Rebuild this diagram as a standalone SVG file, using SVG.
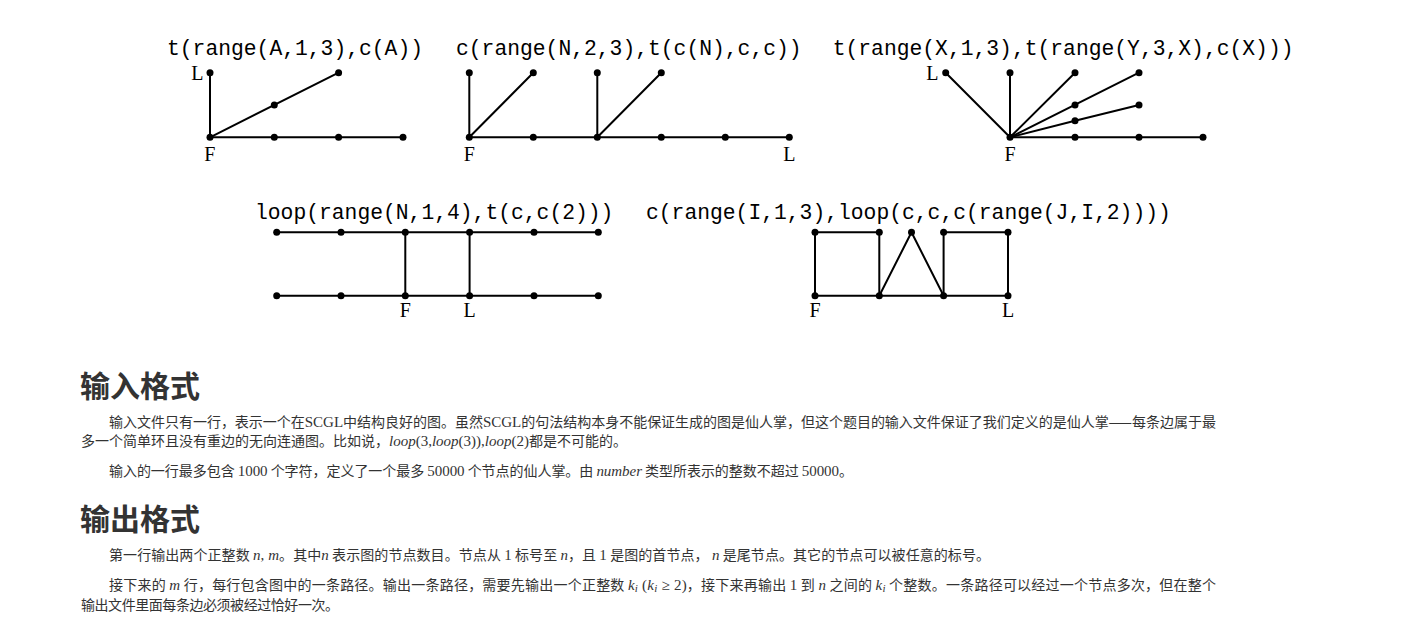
<svg xmlns="http://www.w3.org/2000/svg" width="1402" height="632" viewBox="0 0 1402 632">
<style>
.e{stroke:#000;stroke-width:2;fill:none;stroke-linecap:round}
.n{fill:#000}
.t{font-family:"Liberation Mono",monospace;font-size:21.3px;fill:#000}
.lb{font-family:"Liberation Serif",serif;font-size:20px;fill:#000}
.h{font-family:"Noto Sans CJK SC",sans-serif;font-size:30px;font-weight:bold;fill:#333}
.p{font-family:"Noto Sans CJK SC",sans-serif;font-size:14px;fill:#333}
.m{font-family:"Liberation Serif",serif;font-size:15px}
.i{font-family:"Liberation Serif",serif;font-style:italic;font-size:15px}
</style>
<rect width="1402" height="632" fill="#fff"/>

<g id="graph1">
<text class="t" x="167" y="55" textLength="256" lengthAdjust="spacingAndGlyphs">t(range(A,1,3),c(A))</text>
<g class="edges">
<line class="e" x1="210" y1="137.3" x2="210" y2="72.7"/>
<line class="e" x1="210" y1="137.3" x2="338.6" y2="72.7"/>
<line class="e" x1="210" y1="137.3" x2="403" y2="137.3"/>
</g>
<circle class="n" cx="210" cy="137.3" r="3.5"/>
<circle class="n" cx="210" cy="72.7" r="3.5"/>
<circle class="n" cx="274.3" cy="105" r="3.5"/>
<circle class="n" cx="338.6" cy="72.7" r="3.5"/>
<circle class="n" cx="274.3" cy="137.3" r="3.5"/>
<circle class="n" cx="338.6" cy="137.3" r="3.5"/>
<circle class="n" cx="403" cy="137.3" r="3.5"/>
<text class="lb" x="203.5" y="80" text-anchor="end">L</text>
<text class="lb" x="209.7" y="161" text-anchor="middle">F</text>
</g>

<g id="graph2">
<text class="t" x="456" y="55" textLength="345.6" lengthAdjust="spacingAndGlyphs">c(range(N,2,3),t(c(N),c,c))</text>
<g class="edges">
<line class="e" x1="469.3" y1="137.3" x2="469.3" y2="72.7"/>
<line class="e" x1="469.3" y1="137.3" x2="533.3" y2="72.7"/>
<line class="e" x1="597.3" y1="137.3" x2="597.3" y2="72.7"/>
<line class="e" x1="597.3" y1="137.3" x2="661.3" y2="72.7"/>
<line class="e" x1="469.3" y1="137.3" x2="789.3" y2="137.3"/>
</g>
<circle class="n" cx="469.3" cy="72.7" r="3.5"/>
<circle class="n" cx="533.3" cy="72.7" r="3.5"/>
<circle class="n" cx="597.3" cy="72.7" r="3.5"/>
<circle class="n" cx="661.3" cy="72.7" r="3.5"/>
<circle class="n" cx="469.3" cy="137.3" r="3.5"/>
<circle class="n" cx="533.3" cy="137.3" r="3.5"/>
<circle class="n" cx="597.3" cy="137.3" r="3.5"/>
<circle class="n" cx="661.3" cy="137.3" r="3.5"/>
<circle class="n" cx="725.3" cy="137.3" r="3.5"/>
<circle class="n" cx="789.3" cy="137.3" r="3.5"/>
<text class="lb" x="469.3" y="161" text-anchor="middle">F</text>
<text class="lb" x="789.3" y="161" text-anchor="middle">L</text>
</g>

<g id="graph3">
<text class="t" x="832.7" y="55" textLength="460.8" lengthAdjust="spacingAndGlyphs">t(range(X,1,3),t(range(Y,3,X),c(X)))</text>
<g class="edges">
<line class="e" x1="1010" y1="137.3" x2="945.7" y2="72.7"/>
<line class="e" x1="1010" y1="137.3" x2="1010" y2="72.7"/>
<line class="e" x1="1010" y1="137.3" x2="1075" y2="72.7"/>
<line class="e" x1="1010" y1="137.3" x2="1139" y2="72.7"/>
<line class="e" x1="1010" y1="137.3" x2="1075" y2="120.7"/>
<line class="e" x1="1075" y1="120.7" x2="1139" y2="105"/>
<line class="e" x1="1010" y1="137.3" x2="1203" y2="137.3"/>
</g>
<circle class="n" cx="945.7" cy="72.7" r="3.5"/>
<circle class="n" cx="1010" cy="72.7" r="3.5"/>
<circle class="n" cx="1075" cy="72.7" r="3.5"/>
<circle class="n" cx="1139" cy="72.7" r="3.5"/>
<circle class="n" cx="1075" cy="105" r="3.5"/>
<circle class="n" cx="1139" cy="105" r="3.5"/>
<circle class="n" cx="1075" cy="120.7" r="3.5"/>
<circle class="n" cx="1010" cy="137.3" r="3.5"/>
<circle class="n" cx="1075" cy="137.3" r="3.5"/>
<circle class="n" cx="1139" cy="137.3" r="3.5"/>
<circle class="n" cx="1203" cy="137.3" r="3.5"/>
<text class="lb" x="938.5" y="80" text-anchor="end">L</text>
<text class="lb" x="1010" y="161" text-anchor="middle">F</text>
</g>

<g id="graph4">
<text class="t" x="255" y="219" textLength="358.4" lengthAdjust="spacingAndGlyphs">loop(range(N,1,4),t(c,c(2)))</text>
<g class="edges">
<line class="e" x1="276.7" y1="232.3" x2="598.3" y2="232.3"/>
<line class="e" x1="276.7" y1="295.7" x2="598.3" y2="295.7"/>
<line class="e" x1="405.3" y1="232.3" x2="405.3" y2="295.7"/>
<line class="e" x1="469.6" y1="232.3" x2="469.6" y2="295.7"/>
</g>
<circle class="n" cx="276.7" cy="232.3" r="3.5"/>
<circle class="n" cx="341" cy="232.3" r="3.5"/>
<circle class="n" cx="405.3" cy="232.3" r="3.5"/>
<circle class="n" cx="469.6" cy="232.3" r="3.5"/>
<circle class="n" cx="534" cy="232.3" r="3.5"/>
<circle class="n" cx="598.3" cy="232.3" r="3.5"/>
<circle class="n" cx="276.7" cy="295.7" r="3.5"/>
<circle class="n" cx="341" cy="295.7" r="3.5"/>
<circle class="n" cx="405.3" cy="295.7" r="3.5"/>
<circle class="n" cx="469.6" cy="295.7" r="3.5"/>
<circle class="n" cx="534" cy="295.7" r="3.5"/>
<circle class="n" cx="598.3" cy="295.7" r="3.5"/>
<text class="lb" x="405.3" y="317" text-anchor="middle">F</text>
<text class="lb" x="469.6" y="317" text-anchor="middle">L</text>
</g>

<g id="graph5">
<text class="t" x="646" y="219" textLength="524.8" lengthAdjust="spacingAndGlyphs">c(range(I,1,3),loop(c,c,c(range(J,I,2))))</text>
<g class="edges">
<polyline class="e" points="879.3,295.7 815,295.7 815,232.3 879.3,232.3 879.3,295.7 943.6,295.7 1008,295.7 1008,232.3 943.6,232.3 943.6,295.7"/>
<polyline class="e" points="879.3,295.7 911.5,232.3 943.6,295.7"/>
</g>
<circle class="n" cx="815" cy="232.3" r="3.5"/>
<circle class="n" cx="879.3" cy="232.3" r="3.5"/>
<circle class="n" cx="911.5" cy="232.3" r="3.5"/>
<circle class="n" cx="943.6" cy="232.3" r="3.5"/>
<circle class="n" cx="1008" cy="232.3" r="3.5"/>
<circle class="n" cx="815" cy="295.7" r="3.5"/>
<circle class="n" cx="879.3" cy="295.7" r="3.5"/>
<circle class="n" cx="943.6" cy="295.7" r="3.5"/>
<circle class="n" cx="1008" cy="295.7" r="3.5"/>
<text class="lb" x="815" y="317" text-anchor="middle">F</text>
<text class="lb" x="1008" y="317" text-anchor="middle">L</text>
</g>

<g id="text">
<text class="h" x="80" y="397">输入格式</text>
<text class="p" x="109" y="427" textLength="1107" lengthAdjust="spacing">输入文件只有一行，表示一个在<tspan class="m">SCGL</tspan>中结构良好的图。虽然<tspan class="m">SCGL</tspan>的句法结构本身不能保证生成的图是仙人掌，但这个题目的输入文件保证了我们定义的是仙人掌——每条边属于最</text>
<text class="p" x="81" y="446" textLength="546" lengthAdjust="spacing">多一个简单环且没有重边的无向连通图。比如说，<tspan class="i">loop</tspan><tspan class="m">(3,</tspan><tspan class="i">loop</tspan><tspan class="m">(3)),</tspan><tspan class="i">loop</tspan><tspan class="m">(2)</tspan>都是不可能的。</text>
<text class="p" x="109" y="476" textLength="744" lengthAdjust="spacing">输入的一行最多包含 <tspan class="m">1000</tspan> 个字符，定义了一个最多 <tspan class="m">50000</tspan> 个节点的仙人掌。由 <tspan class="i">number</tspan> 类型所表示的整数不超过 <tspan class="m">50000</tspan>。</text>
<text class="h" x="80" y="530">输出格式</text>
<text class="p" x="109" y="560" textLength="881" lengthAdjust="spacing">第一行输出两个正整数 <tspan class="i">n</tspan><tspan class="m">, </tspan><tspan class="i">m</tspan>。其中<tspan class="i">n</tspan> 表示图的节点数目。节点从 <tspan class="m">1</tspan> 标号至 <tspan class="i">n</tspan>，且 <tspan class="m">1</tspan> 是图的首节点， <tspan class="i">n</tspan> 是尾节点。其它的节点可以被任意的标号。</text>
<text class="p" x="109" y="590" textLength="1107" lengthAdjust="spacing">接下来的 <tspan class="i">m</tspan> 行，每行包含图中的一条路径。输出一条路径，需要先输出一个正整数 <tspan class="i">k<tspan font-size="11" dy="2">i</tspan></tspan><tspan class="m" dy="-2"> (</tspan><tspan class="i">k<tspan font-size="11" dy="2">i</tspan></tspan><tspan class="m" dy="-2"> ≥ 2)</tspan>，接下来再输出 <tspan class="m">1</tspan> 到 <tspan class="i">n</tspan> 之间的 <tspan class="i">k<tspan font-size="11" dy="2">i</tspan></tspan><tspan dy="-2"> 个整数。一条路径可以经过一个节点多次，但在整个</tspan></text>
<text class="p" x="81" y="610" textLength="258" lengthAdjust="spacing">输出文件里面每条边必须被经过恰好一次。</text>
</g>
</svg>
